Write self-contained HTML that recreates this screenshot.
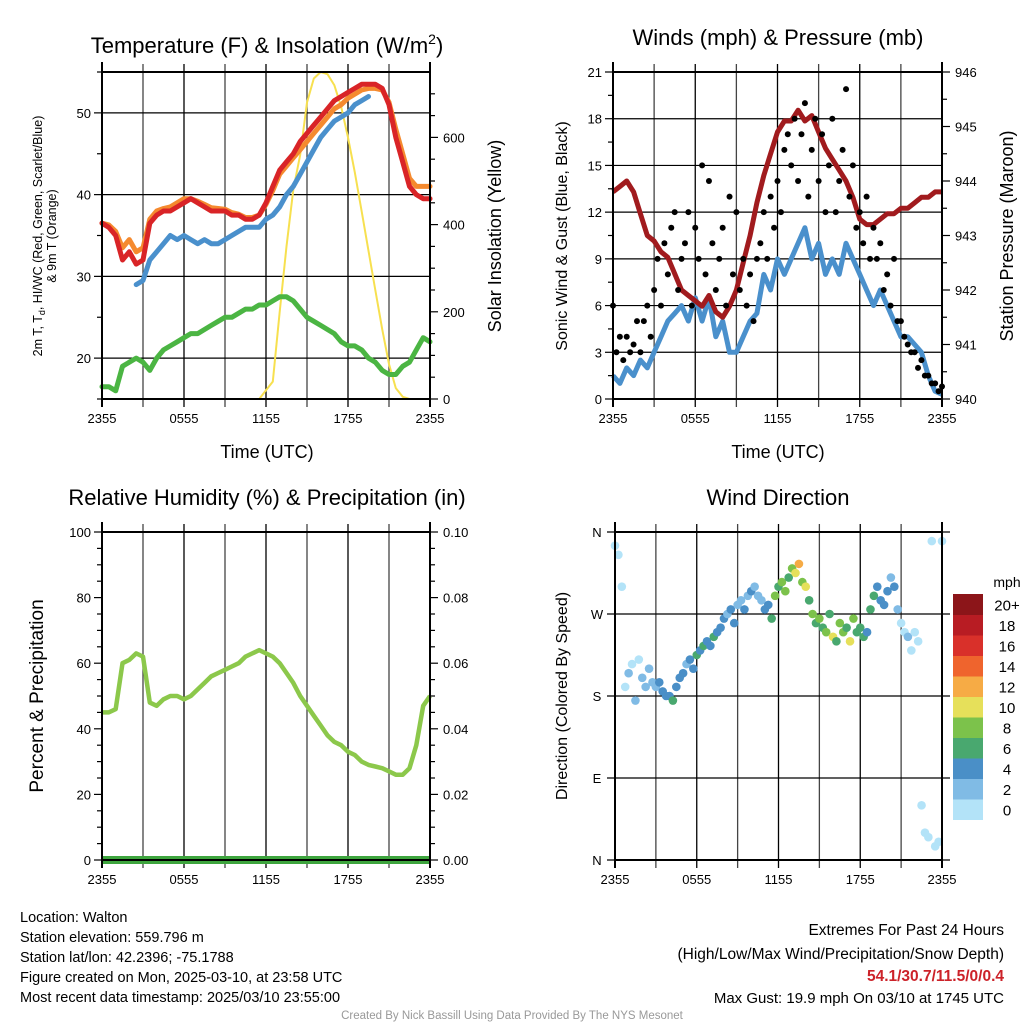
<!DOCTYPE html>
<html><head><meta charset="utf-8"><style>
html,body{margin:0;padding:0;background:#fff;}
svg{display:block;font-family:"Liberation Sans",Arial,sans-serif;}
</style></head><body>
<svg id="chart" width="1024" height="1024" viewBox="0 0 1024 1024"></svg>
<script>
// ---------- DATA (hours since 2355 UTC) ----------
const timeTicks = ["2355","0555","1155","1755","2355"];
const tempRed = [36.5,36,35,32,33,31.5,32,36.5,37.5,38,38,38.5,39,39.5,39,38.5,38,38,38,37.5,37.5,37,37,37.5,39,41,43,44,45,46.5,47.5,48.5,49.5,50.5,51.5,52,52.5,53,53.5,53.5,53.5,53,51,47,44,41,40,39.5,39.5];
const tempOrange = [36.5,36.3,35.5,33.5,34.5,33,33.5,37,38,38.3,38.5,39,39.5,39.5,39.2,38.8,38.4,38.3,38.2,37.8,37.6,37.2,37.2,37.5,38.8,40.5,42.5,43.5,44.5,45.5,46.5,47.5,48.5,49.5,50.5,51,51.8,52.3,52.8,53,53,52.8,51.3,48,45,42,41,41,41];
const tempBlue = [null,null,null,null,null,29,29.5,32,33,34,35,34.5,35,34.5,34,34.5,34,34,34.5,35,35.5,36,36,36,37,37.5,38.5,40,41,42.5,44,45.5,47,48,49,49.5,50,51,51.5,52,null,null,null,null,null,null,null,null,null];
const dewGreen = [16.5,16.5,16,19,19.5,20,19.5,18.5,20,21,21.5,22,22.5,23,23,23.5,24,24.5,25,25,25.5,26,26,26.5,26.5,27,27.5,27.5,27,26,25,24.5,24,23.5,23,22,21.5,21.5,21,20,19.5,18.5,18,18,19,19.5,21,22.5,22];
const solar = [0,0,0,0,0,0,0,0,0,0,0,0,0,0,0,0,0,0,0,0,0,0,0,0,20,40,200,350,480,560,680,735,750,745,720,670,600,520,430,340,250,160,80,25,5,0,0,0,0];
const pressure = [943.8,943.9,944,943.8,943.4,943,942.9,942.7,942.6,942.3,942,941.9,941.8,941.7,941.9,941.6,941.5,941.7,942,942.5,943,943.6,944.1,944.5,944.9,945.1,945.1,945.3,945.1,945.2,944.9,944.6,944.4,944.2,944,943.7,943.3,943.2,943.2,943.3,943.4,943.4,943.5,943.5,943.6,943.7,943.7,943.8,943.8];
const windSpeed = [1.5,1,2,1.5,2.5,2,3,4,5,5.5,6,5,6.5,5,6.5,4,5,3,3,4,5,5.5,8,7,9,8,9,10,11,9,10,8,9,8,10,9,8,7,6,7,6,5,4,4,3.5,3,1.5,0.5,0.3];
const gust = [6,3,4,2.5,4,3,3.5,5,3,5,6,4,7,9,6,10,8,11,12,7,9,10,12,6,11,9,15,8,14,10,7,9,11,6,13,8,12,7,9,6,8,5,9,10,12,9,13,11,14,12,16,17,15,18,14,17,19,13,16,18,14,17,12,15,18,12,14,16,19.9,13,15,11,12,10,13,9,11,9,10,7,8,6,9,5,5,4,3.5,3,3,2,2.5,1.5,1.5,1,1,0.5,0.8];
const relHum = [45,45,46,60,61,63,62,48,47,49,50,50,49,50,52,54,56,57,58,59,60,62,63,64,63,62,60,57,54,50,47,44,41,38,36,35,33,32,30,29,28.5,28,27,26,26,28,35,47,50];
const precip = [0,0,0,0,0,0,0,0,0,0,0,0,0,0,0,0,0,0,0,0,0,0,0,0,0,0,0,0,0,0,0,0,0,0,0,0,0,0,0,0,0,0,0,0,0,0,0,0,0];
const windDir = [345,335,300,190,205,215,175,220,200,190,210,195,190,195,185,180,180,175,190,200,205,215,220,210,225,230,235,240,235,245,250,255,265,270,275,260,280,285,275,290,295,300,290,285,275,280,265,290,300,305,295,310,320,315,325,305,300,285,270,260,265,255,250,270,245,240,260,250,255,240,265,250,255,245,250,275,290,300,285,280,295,310,300,275,260,250,245,230,250,240,60,30,25,350,15,20,350];
const dirSpeed = [1,0.5,1.5,1,2,1.5,2,1,2.5,3,2,3.5,3,4,5,4.5,5,6,4,5,4,3.5,5,4.5,6,5,7,5,4.5,6,5,4,4,3,5,4.5,3,2.5,4,3,4,2,3,2.5,4,5,6,8,7,8,9,6,8,11,12,9,10,7,8,6,9,7,8,7.5,10,6,8,9,7,10,8,6,7,6,5,7,6,5,4,5.5,4.5,3.5,4,2,1.5,1,2,1.5,1,0.5,1,1.5,1,0.5,0.5,1,0.5];
const colorLabels = ["0","2","4","6","8","10","12","14","16","18","20+"];
const colorBins = ["#b3e3f8","#80bbe5","#4a8fc7","#49a86f","#7cc24b","#e6e05a","#f6ab45","#ef642d","#d9302a","#b81c23","#8c1519"];
const dirLabels = ["N","E","S","W","N"];

// ---------- helpers ----------
const svg = document.getElementById('chart');
const NS = 'http://www.w3.org/2000/svg';
function mk(tag, attrs, parent, text){
  const e = document.createElementNS(NS, tag);
  for (const k in attrs) e.setAttribute(k, attrs[k]);
  if (text !== undefined) e.textContent = text;
  (parent || svg).appendChild(e);
  return e;
}
function txt(x,y,s,size,anchor,parent,extra){
  const a = Object.assign({x:x,y:y,'font-size':size,'text-anchor':anchor||'middle',fill:'#000'}, extra||{});
  return mk('text', a, parent, s);
}
function linePath(vals, sx, sy){
  let d='', pen=false;
  vals.forEach((v,i)=>{
    if (v===null){pen=false;return;}
    d += (pen?'L':'M') + sx(i*0.5).toFixed(1) + ',' + sy(v).toFixed(1);
    pen=true;
  });
  return d;
}

function panel(name, x0, x1, y0, y1){
  const g = mk('g', {}, svg);
  
  
  const sx = h => x0 + (x1-x0)*h/24;
  for (let h=3; h<24; h+=3){
    const gl = mk('line',{x1:sx(h),x2:sx(h),y1:y0-8,y2:y1+8,stroke:(h%6===0)?'#000':'#444','stroke-width':1.3}, g);
    
    
  }
  timeTicks.forEach((t,i)=>{
    const tl = txt(sx(i*6), y1+24, t, 13, 'middle', g);
    
    
  });
  return {g, sx};
}
function frame(g,x0,x1,y0,y1){
  const f = mk('rect',{x:x0,y:y0,width:x1-x0,height:y1-y0,fill:'none',stroke:'#000','stroke-width':2}, g);
  
  
  mk('line',{x1:x0,x2:x0,y1:y0-10,y2:y1+8,stroke:'#000','stroke-width':2},g);
  mk('line',{x1:x1,x2:x1,y1:y0-10,y2:y1+8,stroke:'#000','stroke-width':2},g);
}
function yAxis(g, side, xPos, y0, y1, vmin, vmax, major, minor, fmt, gridX0, gridX1, grid){
  const sy = v => y1 - (y1-y0)*(v-vmin)/(vmax-vmin);
  const dir = side==='left' ? -1 : 1;
  const n = Math.round((vmax-vmin)/minor);
  for (let i=0; i<=n; i++){
    const v = vmin + i*minor;
    const isMaj = Math.abs(v/major - Math.round(v/major))<1e-6;
    const y = sy(v);
    mk('line',{x1:xPos,x2:xPos+dir*(isMaj?8:5),y1:y,y2:y,stroke:'#000','stroke-width':1.2},g);
    if (isMaj){
      if (grid && y>y0+1 && y<y1-1){
        const gl = mk('line',{x1:gridX0,x2:gridX1,y1:y,y2:y,stroke:'#000','stroke-width':1.2},g);
        
        
      }
      const t = txt(xPos+dir*11, y+5, fmt(v), 13, side==='left'?'end':'start', g);
      
      
    }
  }
  return sy;
}

// ---------- Panel 1: Temperature ----------
(function(){
  const x0=102,x1=430,y0=72,y1=399;
  const p = panel('temperature-panel',x0,x1,y0,y1);
  const g=p.g, sx=p.sx;
  const sy = yAxis(g,'left',x0,y0,y1,15,55,10,5,v=>String(v),x0,x1,true);
  const sy2 = v => y1 - (y1-y0)*v/750;
  for (let v=0; v<=700; v+=50){
    const maj = v%200===0;
    mk('line',{x1:x1,x2:x1+(maj?8:5),y1:sy2(v),y2:sy2(v),stroke:'#000','stroke-width':1.2},g);
    if (maj){ const t=txt(x1+13,sy2(v)+5,String(v),13,'start',g);   }
  }
  const series = [[solar,'#f7e04f',2,sy2,'solar-insolation-line'],[dewGreen,'#4bb543',5,sy,'dewpoint-line'],[tempOrange,'#f58a2f',5,sy,'temp-9m-line'],[tempBlue,'#4a90cc',5,sy,'windchill-line'],[tempRed,'#d92427',5,sy,'temp-2m-line']];
  series.forEach(s=>{
    const pth = mk('path',{d:linePath(s[0],sx,s[3]),fill:'none',stroke:s[1],'stroke-width':s[2],'stroke-linejoin':'round','stroke-linecap':'round'},g);
    
    
  });
  frame(g,x0,x1,y0,y1);
  const t1=mk('text',{x:267,y:53,'font-size':22,'text-anchor':'middle'},g);
   
  t1.innerHTML='Temperature (F) &amp; Insolation (W/m<tspan dy="-9" font-size="14">2</tspan><tspan dy="9">)</tspan>';
  const xt=txt(267,458,'Time (UTC)',18,'middle',g);  
  const yl=mk('text',{x:0,y:0,'font-size':12.5,'text-anchor':'middle',transform:'translate(42,236) rotate(-90)'},g);
   
  yl.innerHTML='2m T, T<tspan dy="3" font-size="9">d</tspan><tspan dy="-3">, HI/WC (Red, Green, Scarlet/Blue)</tspan>';
  const yl2=mk('text',{x:0,y:0,'font-size':12.5,'text-anchor':'middle',transform:'translate(56,236) rotate(-90)'},g,'& 9m T (Orange)');
   
  const yr=mk('text',{x:0,y:0,'font-size':18,'text-anchor':'middle',transform:'translate(501,236) rotate(-90)'},g,'Solar Insolation (Yellow)');
   
})();

// ---------- Panel 2: Winds ----------
(function(){
  const x0=613,x1=942,y0=72,y1=399;
  const p = panel('winds-panel',x0,x1,y0,y1);
  const g=p.g, sx=p.sx;
  const sy = yAxis(g,'left',x0,y0,y1,0,21,3,1.5,v=>String(v),x0,x1,true);
  const sy2 = v => y1-(y1-y0)*(v-940)/6;
  for (let i=0; i<=12; i++){
    const v=940+i*0.5, maj = i%2===0;
    mk('line',{x1:x1,x2:x1+(maj?8:5),y1:sy2(v),y2:sy2(v),stroke:'#000','stroke-width':1.2},g);
    if (maj){ const t=txt(x1+13,sy2(v)+5,String(Math.round(v)),13,'start',g);   }
  }
  const wl=mk('path',{d:linePath(windSpeed,sx,sy),fill:'none',stroke:'#4a90cc','stroke-width':5,'stroke-linejoin':'round'},g);
   
  const pl=mk('path',{d:linePath(pressure,sx,sy2),fill:'none',stroke:'#a11b1e','stroke-width':5,'stroke-linejoin':'round'},g);
   
  gust.forEach((v,i)=>{
    const c=mk('circle',{cx:sx(i*0.25),cy:sy(v),r:3,fill:'#000'},g);
    
    
  });
  frame(g,x0,x1,y0,y1);
  const t=txt(778,45,'Winds (mph) & Pressure (mb)',22,'middle',g);  
  const xt=txt(778,458,'Time (UTC)',18,'middle',g);  
  const yl=mk('text',{x:0,y:0,'font-size':16,'text-anchor':'middle',transform:'translate(567,236) rotate(-90)'},g,'Sonic Wind & Gust (Blue, Black)');
   
  const yr=mk('text',{x:0,y:0,'font-size':18,'text-anchor':'middle',transform:'translate(1013,236) rotate(-90)'},g,'Station Pressure (Maroon)');
   
})();

// ---------- Panel 3: RH ----------
(function(){
  const x0=102,x1=430,y0=532,y1=860;
  const p = panel('humidity-panel',x0,x1,y0,y1);
  const g=p.g, sx=p.sx;
  const sy = yAxis(g,'left',x0,y0,y1,0,100,20,5,v=>String(v),x0,x1,false);
  const sy2 = v => y1-(y1-y0)*v/0.10;
  for (let i=0;i<=20;i++){
    const v=i*0.005, maj=i%4===0;
    mk('line',{x1:x1,x2:x1+(maj?8:5),y1:sy2(v),y2:sy2(v),stroke:'#000','stroke-width':1.2},g);
    if (maj){ const t=txt(x1+13,sy2(v)+5,v.toFixed(2),13,'start',g);   }
  }
  const rl=mk('path',{d:linePath(relHum,sx,sy),fill:'none',stroke:'#8cc84b','stroke-width':4.5,'stroke-linejoin':'round'},g);
   
  const pl=mk('path',{d:linePath(precip,sx,sy2),fill:'none',stroke:'#3ea53e','stroke-width':8},g);
   
  frame(g,x0,x1,y0,y1);
  const t=txt(267,505,'Relative Humidity (%) & Precipitation (in)',22,'middle',g);  
  const yl=mk('text',{x:0,y:0,'font-size':19,'text-anchor':'middle',transform:'translate(43,696) rotate(-90)'},g,'Percent & Precipitation');
   
})();

// ---------- Panel 4: Wind direction ----------
(function(){
  const x0=615,x1=942,y0=532,y1=860;
  const p = panel('wind-direction-panel',x0,x1,y0,y1);
  const g=p.g, sx=p.sx;
  const sy = v => y1-(y1-y0)*v/360;
  dirLabels.forEach((l,i)=>{
    const y=sy(i*90);
    const gl=mk('line',{x1:x0-8,x2:x1+8,y1:y,y2:y,stroke:'#000','stroke-width':1.2},g);
     
    const t=txt(x0-18,y+5,l,13,'middle',g);  
  });
  windDir.forEach((d,i)=>{
    const bin=Math.min(10,Math.floor(dirSpeed[i]/2));
    const c=mk('circle',{cx:sx(i*0.25),cy:sy(d),r:4.3,fill:colorBins[bin]},g);
    
    
  });
  frame(g,x0,x1,y0,y1);
  const cb=mk('g',{},g);  
  const bh=20.5, top=594;
  colorBins.forEach((c,i)=>{
    const y=top+(10-i)*bh;
    const r=mk('rect',{x:953,y:y,width:30,height:bh+0.5,fill:c},cb);
     
    const t=txt(1007,y+bh/2+6,colorLabels[i],15,'middle',cb);
     
  });
  txt(1007,587,'mph',14,'middle',cb);
  const t=txt(778,505,'Wind Direction',22,'middle',g);  
  const yl=mk('text',{x:0,y:0,'font-size':16,'text-anchor':'middle',transform:'translate(567,696) rotate(-90)'},g,'Direction (Colored By Speed)');
   
})();

// ---------- Footer text ----------
const info=["Location: Walton","Station elevation: 559.796 m","Station lat/lon: 42.2396; -75.1788","Figure created on Mon, 2025-03-10, at 23:58 UTC","Most recent data timestamp: 2025/03/10 23:55:00"];
info.forEach((s,i)=>{ const t=txt(20,922+i*20,s,14.5,'start');   });
let e;
e=txt(1004,935,'Extremes For Past 24 Hours',15.5,'end');  
e=txt(1004,959,'(High/Low/Max Wind/Precipitation/Snow Depth)',15.5,'end');  
e=txt(1004,981,'54.1/30.7/11.5/0/0.4',15.5,'end',null,{fill:'#cc2229','font-weight':'bold'});  
e=txt(1004,1003,'Max Gust: 19.9 mph On 03/10 at 1745 UTC',15,'end');  
e=txt(512,1019,'Created By Nick Bassill Using Data Provided By The NYS Mesonet',11.5,'middle',null,{fill:'#999'});  
</script>
</body></html>
